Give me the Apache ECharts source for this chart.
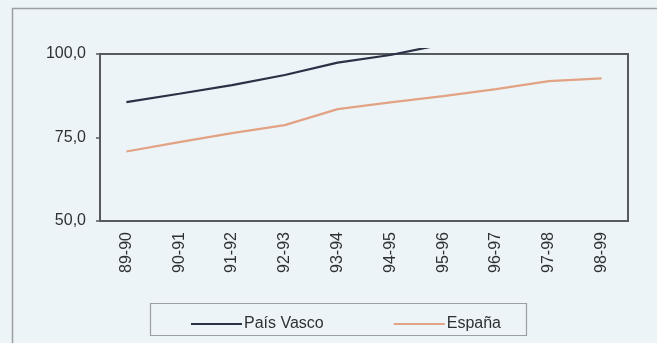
<!DOCTYPE html>
<html>
<head>
<meta charset="utf-8">
<script src="https://cdn.jsdelivr.net/npm/echarts@6/dist/echarts.min.js"></script>
<style>
  html, body { margin: 0; padding: 0; background: #edf4f8; }
  #chart { width: 657px; height: 343px; }
</style>
</head>
<body>
<div id="chart"></div>
<script>
  const categories = ['89-90', '90-91', '91-92', '92-93', '93-94', '94-95', '95-96', '96-97', '97-98', '98-99']
  // values past 95-96 run off the top of the chart and cannot be read
  const paisVasco = [85.6, 88.1, 90.7, 93.7, 97.4, 99.7, 102.9, null, null, null]
  const espana = [70.8, 73.6, 76.3, 78.7, 83.5, 85.5, 87.4, 89.5, 91.9, 92.7]
  const yTicks = [50, 75, 100]

  const font = 'Liberation Sans, Arial, sans-serif'
  const textColor = '#2e3133'

  let chart = echarts.init(document.getElementById('chart'))
  chart.setOption({
    backgroundColor: '#edf4f8',
    animation: false,
    graphic: [
      {
        type: 'rect',
        shape: { x: 12.5, y: 8.5, width: 660, height: 350 },
        style: { fill: 'none', stroke: '#9a9fa3', lineWidth: 1.5 }
      },
      {
        type: 'rect',
        shape: { x: 150.5, y: 303.5, width: 376, height: 32 },
        style: { fill: 'none', stroke: '#9a9fa3', lineWidth: 1.2 }
      }
    ],
    legend: {
      left: 186,
      top: 311,
      itemGap: 70,
      itemWidth: 51,
      itemHeight: 2,
      icon: 'rect',
      textStyle: { fontFamily: font, fontSize: 16, color: textColor, padding: [0, 0, 0, -3] },
      data: ['País Vasco', 'España']
    },
    grid: [
      {
        left: 100, right: 29, top: 54, bottom: 122,
        show: true, borderColor: '#555a5e', borderWidth: 2, backgroundColor: 'transparent'
      },
      // same scale, slightly taller, so the País Vasco line can overshoot the frame a little
      { left: 100, right: 29, top: 49, bottom: 122 }
    ],
    xAxis: [
      {
        type: 'category',
        gridIndex: 0,
        data: categories,
        boundaryGap: true,
        axisLine: { lineStyle: { color: '#555a5e', width: 2 } },
        axisTick: { show: false },
        axisLabel: { rotate: 90, margin: 11, fontFamily: font, fontSize: 16, color: textColor }
      },
      {
        type: 'category',
        gridIndex: 1,
        data: categories,
        boundaryGap: true,
        show: false
      }
    ],
    yAxis: [
      {
        type: 'value',
        gridIndex: 0,
        min: 50,
        max: 100,
        interval: 25,
        axisLine: { show: true, lineStyle: { color: '#555a5e', width: 2 } },
        axisTick: { show: true, length: 4, lineStyle: { color: '#555a5e', width: 1.5 } },
        splitLine: { show: false },
        axisLabel: {
          margin: 14,
          fontFamily: font, fontSize: 16, color: textColor,
          formatter: v => yTicks.includes(v) ? v.toFixed(1).replace('.', ',') : ''
        }
      },
      {
        type: 'value',
        gridIndex: 1,
        min: 50,
        max: 100 + 5 / (167 / 50),
        show: false,
        splitLine: { show: false }
      }
    ],
    series: [
      {
        name: 'País Vasco',
        type: 'line',
        xAxisIndex: 1,
        yAxisIndex: 1,
        data: paisVasco,
        clip: true,
        showSymbol: false,
        color: '#2a3144',
        lineStyle: { width: 2.2, color: '#2a3144' }
      },
      {
        name: 'España',
        type: 'line',
        xAxisIndex: 0,
        yAxisIndex: 0,
        data: espana,
        showSymbol: false,
        color: '#e2a283',
        lineStyle: { width: 2.2, color: '#e2a283' }
      }
    ]
  })
</script>
</body>
</html>
